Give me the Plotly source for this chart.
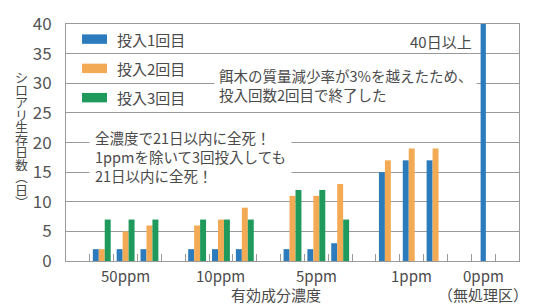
import plotly.graph_objects as go

# ---- data ----
concentrations = ["50ppm", "10ppm", "5ppm", "1ppm", "0ppm"]
concentration_sub = ["", "", "", "", "（無処理区）"]
series_names = ["投入1回目", "投入2回目", "投入3回目"]
# three replicates per concentration (50, 10, 5, 1 ppm)
dose1 = [2, 2, 2, 2, 2, 2, 2, 2, 3, 15, 17, 17]
dose2 = [2, 5, 6, 6, 7, 9, 11, 11, 13, 17, 19, 19]
dose3 = [7, 7, 7, 7, 7, 7, 12, 12, 7, None, None, None]
control = [41]  # 0ppm: 40日以上
y_ticks = [0, 5, 10, 15, 20, 25, 30, 35, 40]

colors = ["#2b7bbd", "#f3aa55", "#1f9a5c"]
FONT = "Noto Sans CJK JP, Noto Sans, sans-serif"
TXT = "#4a4a4a"
GRID = "#9a9a9a"

# slot layout: each replicate occupies one unit; gap of one unit between groups
group_start = [1, 5, 9, 13, 16]
rep_x = [group_start[g] + r + 0.5 for g in range(4) for r in range(3)]
control_x = [group_start[4] + 1.5]
group_center = [s + 1.5 for s in group_start]

fig = go.Figure()
offsets = [-0.375, -0.125, 0.125]
for vals, name, col, off in zip([dose1, dose2, dose3], series_names, colors, offsets):
    fig.add_trace(go.Bar(x=rep_x, y=vals, name=name, marker=dict(color=col, line_width=0),
                         width=0.25, offset=off, showlegend=False, hoverinfo="skip"))
fig.add_trace(go.Bar(x=control_x, y=control, marker=dict(color=colors[0], line_width=0),
                     width=0.22, offset=-0.11, showlegend=False, cliponaxis=False,
                     hoverinfo="skip"))

tick_bounds = sorted(set([s + k for s in group_start[:4] for k in range(4)] + [17, 18]))

PL, PT, PW, PH = 66, 10, 453, 251

fig.update_layout(
    width=535, height=304,
    margin=dict(l=PL, r=535 - PL - PW, t=PT, b=304 - PT - PH),
    plot_bgcolor="white", paper_bgcolor="white",
    barmode="group",
    font=dict(family=FONT, color=TXT, size=14),
    xaxis=dict(range=[0, 19], tickvals=tick_bounds, ticktext=[""] * len(tick_bounds),
               ticks="inside", ticklen=7, tickcolor=GRID, tickwidth=1,
               showgrid=False, zeroline=False, showline=True, linecolor=GRID,
               linewidth=1, mirror=True),
    yaxis=dict(range=[0, 40.02], tickvals=y_ticks, showgrid=True, gridcolor=GRID,
               gridwidth=1, zeroline=False, showline=True, linecolor=GRID,
               linewidth=1, mirror=True, ticks="", ticklabelstandoff=10,
               ticklabeloverflow="allow",
               tickfont=dict(size=17, color="#555555", family=FONT)),
)

# group labels
for name, sub, cx in zip(concentrations, concentration_sub, group_center):
    fig.add_annotation(x=cx, y=0, xref="x", yref="paper", text=name, showarrow=False,
                       yanchor="top", yshift=-2, font=dict(size=15, color=TXT))
    if sub:
        fig.add_annotation(x=cx, y=0, xref="x", yref="paper", text=sub, showarrow=False,
                           yanchor="top", yshift=-21, font=dict(size=15, color=TXT))

# x title
fig.add_annotation(x=8.8, y=0, xref="x", yref="paper", text="有効成分濃度", showarrow=False,
                   yanchor="top", yshift=-21, font=dict(size=15, color=TXT))

# y title (vertical writing, upright characters)
ytitle = "シロアリ生存日数︵日︶"
for i, ch in enumerate(ytitle):
    fig.add_annotation(x=-(PL - 21) / PW, y=1 - (66 + 13.2 * i - PT) / PH,
                       xref="paper", yref="paper", text=ch, showarrow=False,
                       xanchor="center", yanchor="middle", height=13,
                       font=dict(size=13, color=TXT))

# manual legend
leg_y = [26, 57, 88]
for name, col, py in zip(series_names, colors, leg_y):
    yp = 1 - (py - PT) / PH
    fig.add_shape(type="rect", xref="paper", yref="paper",
                  x0=(82 - PL) / PW, x1=(107 - PL) / PW,
                  y0=yp - 5 / PH, y1=yp + 5 / PH,
                  fillcolor=col, line_width=0)
    fig.add_annotation(x=(115 - PL) / PW, y=yp, xref="paper", yref="paper", text=name,
                       showarrow=False, xanchor="left", yanchor="middle",
                       font=dict(size=15, color=TXT))

# text notes
fig.add_annotation(x=17.1, y=37.0, xref="x", yref="y", text="40日以上", showarrow=False,
                   xanchor="right", yanchor="middle", font=dict(size=15, color=TXT))
fig.add_annotation(x=6.2, y=29.8, xref="x", yref="y",
                   text="餌木の質量減少率が3%を越えたため、<br>投入回数2回目で終了した",
                   showarrow=False, xanchor="left", yanchor="middle", align="left",
                   bgcolor="white", borderpad=4, font=dict(size=14.5, color=TXT))
fig.add_annotation(x=0.95, y=17.6, xref="x", yref="y",
                   text="全濃度で21日以内に全死！<br>1ppmを除いて3回投入しても<br>21日以内に全死！",
                   showarrow=False, xanchor="left", yanchor="middle", align="left",
                   bgcolor="white", borderpad=5, font=dict(size=14.5, color=TXT))

fig.write_html("out.html", config={"displayModeBar": False},
               post_script="document.body.style.margin='0';")
